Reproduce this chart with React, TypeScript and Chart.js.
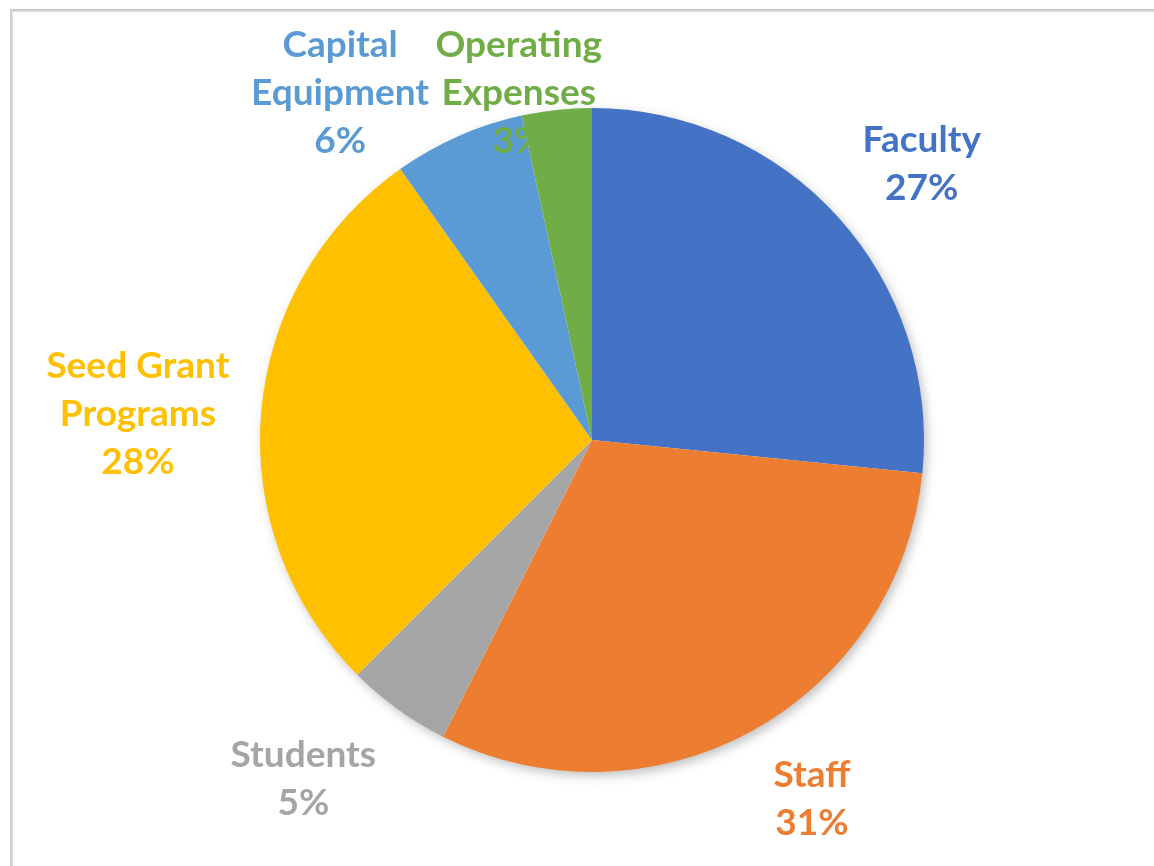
import React, { useEffect, useRef } from "react";
import { Chart, registerables } from "chart.js";

Chart.register(...registerables);

const categories: string[][] = [
  ["Faculty"],
  ["Staff"],
  ["Students"],
  ["Seed Grant", "Programs"],
  ["Capital", "Equipment"],
  ["Operating", "Expenses"],
];
const values: number[] = [26.6, 30.8, 5.1, 27.7, 6.4, 3.4];
const colors: string[] = ["#4472C4", "#ED7D31", "#A5A5A5", "#FFC000", "#5B9BD5", "#70AD47"];

// label placement: distance (in radii) and angular tweak (degrees) from the slice's mid-angle
const labelDist: number[] = [1.295, 1.268, 1.341, 1.37, 1.292, 1.068];
const labelAngleTweak: number[] = [2.2, -2.7, 4.6, -1.6, -12.2, -5.8];

const W = 1154;
const H = 866;

const shadowPlugin = {
  id: "pieShadow",
  beforeDatasetsDraw(chart: any) {
    const meta = chart.getDatasetMeta(0);
    const arc = meta.data[0];
    if (!arc) return;
    const { x, y, outerRadius } = arc.getProps(["x", "y", "outerRadius"], true);
    const ctx = chart.ctx;
    ctx.save();
    ctx.shadowColor = "rgba(0,0,0,0.28)";
    ctx.shadowBlur = 12;
    ctx.shadowOffsetX = 3;
    ctx.shadowOffsetY = 4;
    ctx.fillStyle = "#ffffff";
    ctx.beginPath();
    ctx.arc(x, y, outerRadius - 1, 0, Math.PI * 2);
    ctx.fill();
    ctx.restore();
  },
};

const labelPlugin = {
  id: "pieLabels",
  afterDatasetsDraw(chart: any) {
    const meta = chart.getDatasetMeta(0);
    const data: number[] = chart.data.datasets[0].data;
    const total = data.reduce((a: number, b: number) => a + b, 0);
    const ctx = chart.ctx;
    ctx.save();
    ctx.font = "bold 37px Lato, 'Open Sans', sans-serif";
    ctx.textAlign = "center";
    ctx.textBaseline = "middle";
    meta.data.forEach((el: any, i: number) => {
      const { x, y, startAngle, endAngle, outerRadius } = el.getProps(
        ["x", "y", "startAngle", "endAngle", "outerRadius"],
        true
      );
      const mid = (startAngle + endAngle) / 2 + (labelAngleTweak[i] * Math.PI) / 180;
      const d = labelDist[i] * outerRadius;
      const cx = x + Math.cos(mid) * d;
      const cy = y + Math.sin(mid) * d;
      const lines = [...categories[i], Math.round((data[i] / total) * 100) + "%"];
      const lh = 48;
      const top = cy - ((lines.length - 1) * lh) / 2;
      ctx.fillStyle = colors[i];
      lines.forEach((t, k) => ctx.fillText(t, cx, top + k * lh));
    });
    ctx.restore();
  },
};

export default function App() {
  const ref = useRef<HTMLCanvasElement | null>(null);
  useEffect(() => {
    if (!ref.current) return;
    const chart = new Chart(ref.current, {
      type: "pie",
      data: {
        labels: categories.map((c) => c.join(" ")),
        datasets: [
          {
            data: values,
            backgroundColor: colors,
            borderWidth: 0,
          },
        ],
      },
      options: {
        responsive: false,
        animation: false,
        layout: { padding: { left: 260, right: 230, top: 108, bottom: 94 } },
        plugins: {
          legend: { display: false },
          tooltip: { enabled: false },
        },
      },
      plugins: [shadowPlugin, labelPlugin],
    });
    return () => chart.destroy();
  }, []);
  return (
    <div style={{ position: "fixed", left: 0, top: 0, width: W, height: H, background: "#fff", overflow: "hidden" }}>
      <div style={{ position: "absolute", left: 10, top: 9, width: W - 10, height: 3, background: "linear-gradient(#bdbdbd, #e2e2e2)" }} />
      <div style={{ position: "absolute", left: 10, top: 9, width: 3, height: H - 9, background: "linear-gradient(90deg, #c4c4c4, #e4e4e4)" }} />
      <canvas ref={ref} width={W} height={H} style={{ position: "absolute", left: 0, top: 0, width: W, height: H }} />
    </div>
  );
}
